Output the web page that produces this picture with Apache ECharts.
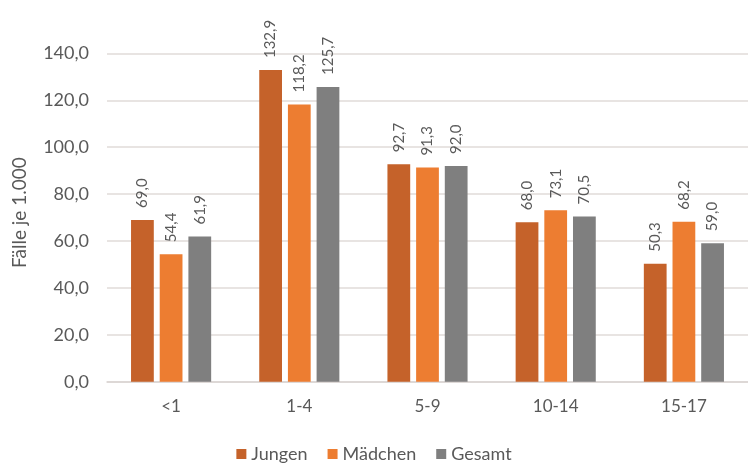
<!DOCTYPE html>
<html>
<head>
<meta charset="utf-8">
<script src="https://cdn.jsdelivr.net/npm/echarts@6/dist/echarts.min.js"></script>
<style>
html,body{margin:0;padding:0;background:#fff;}
#chart{width:748px;height:464px;}
</style>
</head>
<body>
<div id="chart"></div>
<script>
const categories = ['<1', '1-4', '5-9', '10-14', '15-17'];
const seriesNames = ['Jungen', 'Mädchen', 'Gesamt'];
const jungen = [69.0, 132.9, 92.7, 68.0, 50.3];
const maedchen = [54.4, 118.2, 91.3, 73.1, 68.2];
const gesamt = [61.9, 125.7, 92.0, 70.5, 59.0];
const colors = ['#c5622a', '#ed7d31', '#7f7f7f'];
const yAxisName = 'Fälle je 1.000';

const fmt = v => v.toFixed(1).replace('.', ',');
const textColor = '#595959';
const font = 'Lato, "Open Sans", sans-serif';

const chart = echarts.init(document.getElementById('chart'), null, {renderer: 'canvas'});
const values = [jungen, maedchen, gesamt];
chart.setOption({
  animation: false,
  color: colors,
  grid: {left: 107, right: -10, top: 53.4, bottom: 82.3, containLabel: false},
  legend: {
    data: seriesNames,
    bottom: -4,
    left: 'center',
    itemWidth: 10,
    itemHeight: 10,
    itemGap: 20,
    icon: 'rect',
    textStyle: {color: textColor, fontSize: 18, fontFamily: font}
  },
  xAxis: {
    type: 'category',
    data: categories,
    axisTick: {show: false},
    axisLine: {lineStyle: {color: '#d9d4d2', width: 1.5}},
    axisLabel: {color: textColor, fontSize: 17, fontFamily: font, margin: 16}
  },
  yAxis: {
    type: 'value',
    min: 0,
    max: 140,
    interval: 20,
    name: yAxisName,
    nameLocation: 'middle',
    nameGap: 78,
    nameRotate: 90,
    nameTextStyle: {color: textColor, fontSize: 19, fontFamily: font, padding: [0, 0, 0, 10]},
    axisLine: {show: false},
    axisTick: {show: false},
    splitLine: {lineStyle: {color: '#e0dbd8', width: 1.5}},
    axisLabel: {color: textColor, fontSize: 18, fontFamily: font, margin: 18, formatter: v => fmt(v)}
  },
  series: seriesNames.map((name, i) => ({
    name: name,
    type: 'bar',
    data: values[i],
    barGap: '26%',
    barCategoryGap: '37.5%',
    label: {
      show: true,
      position: 'top',
      rotate: 90,
      align: 'left',
      verticalAlign: 'middle',
      distance: 12,
      color: textColor,
      fontSize: 15,
      fontFamily: font,
      formatter: p => fmt(p.value)
    }
  }))
});
</script>
</body>
</html>
